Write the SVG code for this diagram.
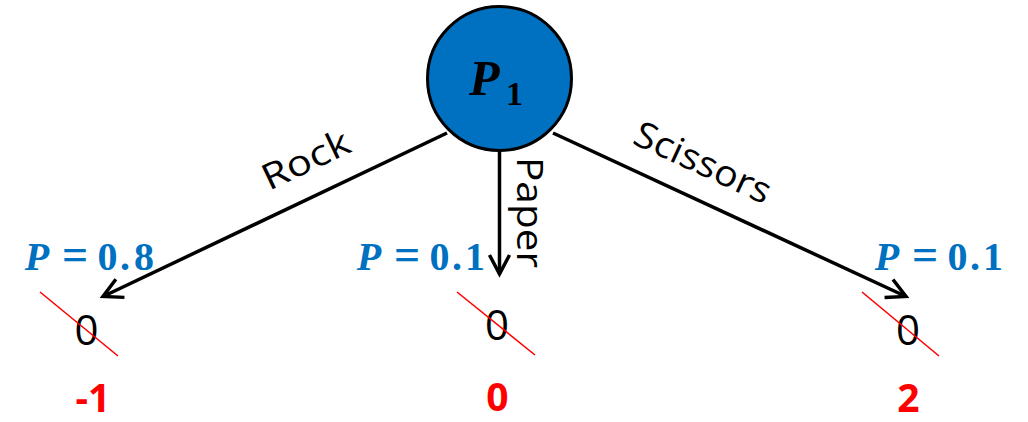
<svg xmlns="http://www.w3.org/2000/svg" width="1028" height="422" viewBox="0 0 1028 422">
  <style>
    .edge { stroke: #000; stroke-width: 3.5; fill: none; }
    .elabel { font-family: "Open Sans", "Liberation Sans", sans-serif; font-size: 36px; fill: #000; }
    .prob { font-family: "Liberation Serif", serif; font-size: 40px; font-weight: bold; fill: #0070C0; text-anchor: middle; }
    .prob .v { font-style: italic; }
    .prob .eq { font-size: 46px; }
    .zero { font-family: "Open Sans", "Liberation Sans", sans-serif; font-size: 42px; fill: #000; text-anchor: middle; }
    .strike { stroke: #FF0000; stroke-width: 1.6; }
    .payoff { font-family: "Open Sans", "Liberation Sans", sans-serif; font-size: 39px; font-weight: bold; fill: #FF0000; text-anchor: middle; }
  </style>
  <defs>
    <marker id="arrow" markerUnits="userSpaceOnUse" markerWidth="30" markerHeight="30" refX="0" refY="0" viewBox="-22 -15 30 30" orient="auto">
      <path d="M -19 -10 L 0 0 L -19 10" fill="none" stroke="#000" stroke-width="3.5" stroke-linejoin="miter"/>
    </marker>
  </defs>
  <rect width="1028" height="422" fill="#fff"/>

  <g id="connectors">
    <line class="edge" x1="447" y1="133" x2="103" y2="296.5" marker-end="url(#arrow)"/>
    <line class="edge" x1="499.5" y1="150" x2="499.5" y2="274" marker-end="url(#arrow)"/>
    <line class="edge" x1="553" y1="133" x2="906" y2="296.5" marker-end="url(#arrow)"/>
    <text class="elabel" transform="translate(269 191) rotate(-25.4)" textLength="93" lengthAdjust="spacingAndGlyphs">Rock</text>
    <text class="elabel" transform="translate(517 157) rotate(90)" textLength="111" lengthAdjust="spacingAndGlyphs">Paper</text>
    <text class="elabel" transform="translate(631 143) rotate(24.8)" textLength="147" lengthAdjust="spacingAndGlyphs">Scissors</text>
  </g>

  <g id="node-p1">
    <circle cx="499.5" cy="78.5" r="72" fill="#0070C0" stroke="#000" stroke-width="3"/>
    <text x="469" y="95" font-family="Liberation Serif, serif" font-size="50" font-weight="bold" font-style="italic" fill="#000">P</text>
    <text x="506" y="105" font-family="Liberation Serif, serif" font-size="34" font-weight="bold" fill="#000">1</text>
  </g>

  <g id="leaf-rock">
    <text class="prob" y="270"><tspan class="v" x="37">P</tspan><tspan class="eq" x="75">=</tspan><tspan x="107.5">0</tspan><tspan x="125">.</tspan><tspan x="144">8</tspan></text>
    <text class="zero" x="86.5" y="345">0</text>
    <line class="strike" x1="40" y1="292" x2="118" y2="356"/>
    <text class="payoff" x="93" y="412">-1</text>
  </g>

  <g id="leaf-paper">
    <text class="prob" y="270"><tspan class="v" x="369">P</tspan><tspan class="eq" x="407">=</tspan><tspan x="439.5">0</tspan><tspan x="457">.</tspan><tspan x="475">1</tspan></text>
    <text class="zero" x="497" y="340">0</text>
    <line class="strike" x1="457" y1="292" x2="535" y2="355"/>
    <text class="payoff" x="497.5" y="411">0</text>
  </g>

  <g id="leaf-scissors">
    <text class="prob" y="270"><tspan class="v" x="887">P</tspan><tspan class="eq" x="925">=</tspan><tspan x="957.5">0</tspan><tspan x="975">.</tspan><tspan x="993">1</tspan></text>
    <text class="zero" x="908" y="345">0</text>
    <line class="strike" x1="862" y1="292" x2="939" y2="356"/>
    <text class="payoff" x="908.5" y="412">2</text>
  </g>
</svg>
